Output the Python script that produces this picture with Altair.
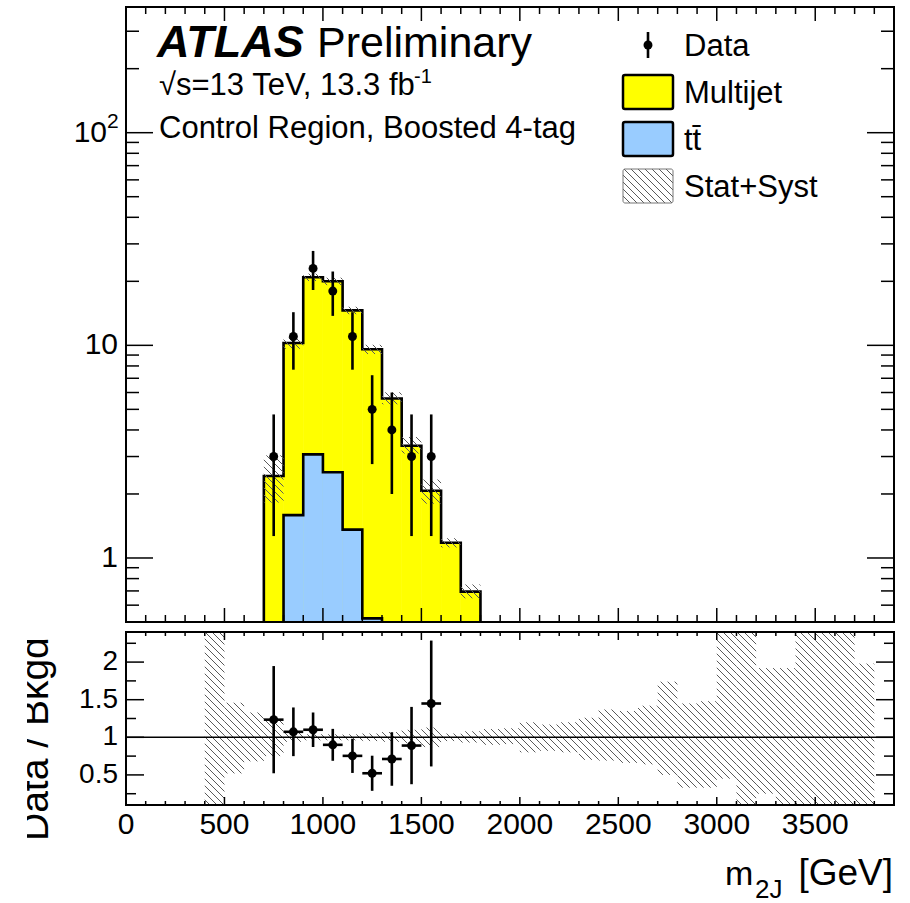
import math
import pandas as pd
import altair as alt

FONT = "Liberation Sans"

# ---------------- values ----------------
BIN_W = 100  # GeV
stack_lo = [700, 800, 900, 1000, 1100, 1200, 1300, 1400, 1500, 1600, 1700]
multijet = [2.43, 8.66, 17.83, 17.47, 13.24, 9.06, 5.62, 3.37, 2.07, 1.18, 0.695]
ttbar = [0.0, 1.59, 3.07, 2.53, 1.36, 0.52, 0.0, 0.0, 0.0, 0.0, 0.0]

data_center = [750, 850, 950, 1050, 1150, 1250, 1350, 1450, 1550]
data_count = [3, 11, 23, 18, 11, 5, 4, 3, 3]

# relative background uncertainty (stat+syst), per 100 GeV bin starting at band_lo
band_lo = list(range(400, 3800, 100))
band_up = [2.0, 0.46, 0.33, 0.25, 0.06, 0.04, 0.04, 0.04, 0.05, 0.07, 0.10, 0.13,
           0.05, 0.08, 0.11, 0.12, 0.20, 0.17, 0.20, 0.26, 0.37, 0.35, 0.42, 0.74,
           0.45, 0.48, 2.0, 2.0, 0.92, 0.92, 2.0, 2.0, 2.0, 0.98]
band_dn = [1.0, 0.48, 0.32, 0.25, 0.06, 0.04, 0.04, 0.04, 0.05, 0.06, 0.08, 0.13,
           0.05, 0.07, 0.10, 0.09, 0.20, 0.18, 0.20, 0.30, 0.31, 0.34, 0.36, 0.50,
           0.67, 0.67, 0.55, 1.0, 0.75, 1.0, 1.0, 1.0, 1.0, 1.0]

x_major = [0, 500, 1000, 1500, 2000, 2500, 3000, 3500]
x_labels = ["0", "500", "1000", "1500", "2000", "2500", "3000", "3500"]
y_major = [1, 10, 100]
y_base = ["1", "10", "10"]       # mantissa text of each decade label
y_exp = ["", "", "2"]            # superscript exponent
r_major = [0.5, 1.0, 1.5, 2.0]
r_labels = ["0.5", "1", "1.5", "2"]

# ---------------- layout ----------------
W, H = 768, 798          # whole drawing area (main + ratio pads)
MAIN_H = 615             # main pad occupies y in [0, MAIN_H]
RATIO_TOP = 625          # ratio pad occupies y in [RATIO_TOP, H]
X_DOM = [0, 3900]
MAIN_DOM = [0.5, 390]
RATIO_DOM = [0.1, 2.4]

xscale = alt.Scale(domain=X_DOM, range=[0, W], nice=False, zero=False)
main_y = alt.Scale(type="log", domain=MAIN_DOM, range=[MAIN_H, 0], nice=False)
ratio_y = alt.Scale(domain=RATIO_DOM, range=[H, RATIO_TOP], nice=False, zero=False)

LMIN, LMAX = math.log10(MAIN_DOM[0]), math.log10(MAIN_DOM[1])


def px_x(v):
    return (v - X_DOM[0]) / (X_DOM[1] - X_DOM[0]) * W


def x_of_px(p):
    return X_DOM[0] + p / W * (X_DOM[1] - X_DOM[0])


def px_main(v):
    return MAIN_H * (1 - (math.log10(v) - LMIN) / (LMAX - LMIN))


def main_of_px(p):
    return 10 ** (LMIN + (1 - p / MAIN_H) * (LMAX - LMIN))


def px_ratio(v):
    return H - (v - RATIO_DOM[0]) / (RATIO_DOM[1] - RATIO_DOM[0]) * (H - RATIO_TOP)


def ratio_of_px(p):
    return RATIO_DOM[0] + (H - p) / (H - RATIO_TOP) * (RATIO_DOM[1] - RATIO_DOM[0])


def hatch(rects_px, y_from_px, step=7.0):
    """Diagonal (\\) hatch segments filling pixel rectangles (x0, x1, top, bottom)."""
    rows = []
    for a, b, top, bot in rects_px:
        k0 = math.ceil((top - b) / step)
        k1 = math.floor((bot - a) / step)
        for k in range(k0, k1 + 1):
            c = k * step
            xs = max(a, top - c)
            xe = min(b, bot - c)
            if xe - xs > 0.6:
                rows.append({"x": x_of_px(xs), "x2": x_of_px(xe),
                             "y": y_from_px(xs + c), "y2": y_from_px(xe + c)})
    return pd.DataFrame(rows)


totals = [m + t for m, t in zip(multijet, ttbar)]
band = {lo: (u, d) for lo, u, d in zip(band_lo, band_up, band_dn)}


def step_vertices(lo_edges, values, floor):
    rows = [{"x": lo_edges[0], "y": floor}]
    for lo, v in zip(lo_edges, values):
        rows.append({"x": lo, "y": v})
        rows.append({"x": lo + BIN_W, "y": v})
    rows.append({"x": lo_edges[-1] + BIN_W, "y": floor})
    for i, r in enumerate(rows):
        r["i"] = i
    return pd.DataFrame(rows)


tot_df = step_vertices(stack_lo, totals, MAIN_DOM[0])
tt_lo = [lo for lo, t in zip(stack_lo, ttbar) if t > 0]
tt_val = [t for t in ttbar if t > 0]
tt_df = step_vertices(tt_lo, tt_val, MAIN_DOM[0])

bins_tot = pd.DataFrame({"lo": stack_lo, "hi": [v + BIN_W for v in stack_lo], "y": totals})
bins_tt = pd.DataFrame({"lo": tt_lo, "hi": [v + BIN_W for v in tt_lo], "y": tt_val})

# data and ratio
bkg_at = {lo + BIN_W / 2: t for lo, t in zip(stack_lo, totals)}
pts = []
for c, n in zip(data_center, data_count):
    e = math.sqrt(n)
    b = bkg_at[c]
    pts.append({"x": c, "lo": c - BIN_W / 2, "hi": c + BIN_W / 2,
                "n": n, "n_lo": n - e, "n_hi": n + e,
                "r": n / b, "r_lo": (n - e) / b, "r_hi": (n + e) / b})
pts_df = pd.DataFrame(pts)

# uncertainty hatching
main_rects = []
for lo, t in zip(stack_lo, totals):
    u, d = band[lo]
    v_lo = max(MAIN_DOM[0], t * (1 - d))
    v_hi = min(MAIN_DOM[1], t * (1 + u))
    if v_hi > MAIN_DOM[0]:
        main_rects.append((px_x(lo), px_x(lo + BIN_W), px_main(v_hi), px_main(v_lo)))
main_hatch_df = hatch(main_rects, main_of_px)

ratio_rects = []
for lo, u, d in zip(band_lo, band_up, band_dn):
    v_lo = max(RATIO_DOM[0], 1 - d)
    v_hi = min(RATIO_DOM[1], 1 + u)
    ratio_rects.append((px_x(lo), px_x(lo + BIN_W), px_ratio(v_hi), px_ratio(v_lo)))
ratio_hatch_df = hatch(ratio_rects, ratio_of_px)

# legend geometry (pixels inside the main pad)
LEG_X0, LEG_X1 = 497, 547
LEG_ROWS = [38, 85, 132, 179]
LEG_H = 34
legend_hatch_df = hatch([(LEG_X0, LEG_X1, LEG_ROWS[3] - LEG_H / 2, LEG_ROWS[3] + LEG_H / 2)], main_of_px)

one = pd.DataFrame({"k": [0]})


def X(field="x"):
    return alt.X(f"{field}:Q", scale=xscale, axis=None)


def YM(field="y"):
    return alt.Y(f"{field}:Q", scale=main_y, axis=None, stack=None)


def YR(field="y"):
    return alt.Y(f"{field}:Q", scale=ratio_y, axis=None, stack=None)


# ---------------- main pad ----------------
yellow_fill = alt.Chart(bins_tot).mark_rect(color="#ffff00", stroke="#ffff00", strokeWidth=0.6).encode(
    x=X("lo"), x2="hi:Q", y=YM(), y2=alt.value(MAIN_H))
blue_fill = alt.Chart(bins_tt).mark_rect(color="#99ccff", stroke="#99ccff", strokeWidth=0.6).encode(
    x=X("lo"), x2="hi:Q", y=YM(), y2=alt.value(MAIN_H))
yellow_line = alt.Chart(tot_df).mark_line(color="black", strokeWidth=2.6).encode(
    x=X(), y=YM(), order="i:Q")
blue_line = alt.Chart(tt_df).mark_line(color="black", strokeWidth=2.6).encode(
    x=X(), y=YM(), order="i:Q")
main_hatch = alt.Chart(main_hatch_df).mark_rule(color="#5a5a5a", strokeWidth=1).encode(
    x=X(), x2="x2:Q", y=YM(), y2="y2:Q")
main_err = alt.Chart(pts_df).mark_rule(color="black", strokeWidth=2.6).encode(
    x=X(), y=YM("n_lo"), y2="n_hi:Q")
main_pts = alt.Chart(pts_df).mark_circle(color="black", size=80, opacity=1).encode(
    x=X(), y=YM("n"))

main_minor = [0.6, 0.7, 0.8, 0.9] + list(range(2, 10)) + [v * 10 for v in range(2, 10)] + [200, 300]
major_y_df = pd.DataFrame({"v": y_major, "t": y_base, "e": y_exp,
                           "shift": [0 if e == "" else 11 for e in y_exp]})
minor_y_df = pd.DataFrame({"v": main_minor})


def y_ticks(df, scale, length, right=False):
    x0 = W - length if right else 0
    return alt.Chart(df).mark_rule(color="black", strokeWidth=1.5).encode(
        y=alt.Y("v:Q", scale=scale, axis=None), x=alt.value(x0), x2=alt.value(x0 + length))


# decade labels: mantissa, pushed left when an exponent follows it
main_labels = alt.Chart(major_y_df).transform_calculate(xr="-8 - datum.shift").mark_text(
    font=FONT, fontSize=30, align="right", baseline="middle", color="black").encode(
    y=YM("v"), x=alt.X("xr:Q", scale=None, axis=None), text="t:N")
main_exps = alt.Chart(major_y_df[major_y_df["e"] != ""]).mark_text(
    font=FONT, fontSize=21, align="left", baseline="middle", color="black", dy=-11).encode(
    y=YM("v"), x=alt.value(-19), text="e:N")

legend_hatch = alt.Chart(legend_hatch_df).mark_rule(color="#5a5a5a", strokeWidth=1).encode(
    x=X(), x2="x2:Q", y=YM(), y2="y2:Q")

main_group = alt.layer(
    yellow_fill, blue_fill, yellow_line, blue_line, main_hatch, main_err, main_pts,
    y_ticks(major_y_df, main_y, 27), y_ticks(minor_y_df, main_y, 13),
    y_ticks(major_y_df, main_y, 27, True), y_ticks(minor_y_df, main_y, 13, True),
    main_labels, main_exps, legend_hatch,
)

# ---------------- ratio pad ----------------
ratio_hatch = alt.Chart(ratio_hatch_df).mark_rule(color="#5a5a5a", strokeWidth=1).encode(
    x=X(), x2="x2:Q", y=YR(), y2="y2:Q")
unity = alt.Chart(pd.DataFrame({"v": [1.0]})).mark_rule(color="black", strokeWidth=1.5).encode(
    y=YR("v"), x=alt.value(0), x2=alt.value(W))
ratio_err_v = alt.Chart(pts_df).mark_rule(color="black", strokeWidth=2.6).encode(
    x=X(), y=YR("r_lo"), y2="r_hi:Q")
ratio_err_h = alt.Chart(pts_df).mark_rule(color="black", strokeWidth=2.6).encode(
    x=X("lo"), x2="hi:Q", y=YR("r"))
ratio_pts = alt.Chart(pts_df).mark_circle(color="black", size=80, opacity=1).encode(
    x=X(), y=YR("r"))
r_major_df = pd.DataFrame({"v": r_major, "t": r_labels})
r_minor_df = pd.DataFrame({"v": [0.25, 0.75, 1.25, 1.75, 2.25]})
ratio_labels = alt.Chart(r_major_df).mark_text(
    font=FONT, fontSize=28, align="right", baseline="middle", color="black").encode(
    y=YR("v"), x=alt.value(-8), text="t:N")

ratio_group = alt.layer(
    ratio_hatch, unity, ratio_err_v, ratio_err_h, ratio_pts,
    y_ticks(r_major_df, ratio_y, 18), y_ticks(r_minor_df, ratio_y, 10),
    y_ticks(r_major_df, ratio_y, 18, True), y_ticks(r_minor_df, ratio_y, 10, True),
    ratio_labels,
)

# ---------------- frames, x ticks and text ----------------
x_major_df = pd.DataFrame({"v": x_major[1:]})
x_minor_df = pd.DataFrame({"v": [v for v in range(100, 3900, 100) if v % 500]})
x_label_df = pd.DataFrame({"v": x_major, "t": x_labels})


def x_ticks(df, y_edge, length, down):
    y0, y1 = (y_edge, y_edge + length) if down else (y_edge - length, y_edge)
    return alt.Chart(df).mark_rule(color="black", strokeWidth=1.5).encode(
        x=X("v"), y=alt.value(y0), y2=alt.value(y1))


def frame(y0, y1):
    return alt.Chart(one).mark_rect(fillOpacity=0, stroke="black", strokeWidth=2).encode(
        x=alt.value(0), x2=alt.value(W), y=alt.value(y0), y2=alt.value(y1))


def text(s, x, y, size, **kw):
    opts = dict(font=FONT, fontSize=size, align="left", baseline="alphabetic", color="black")
    opts.update(kw)
    return alt.Chart(one).mark_text(text=s, **opts).encode(x=alt.value(x), y=alt.value(y))


def box(row, fill, stroke="black", sw=2.5):
    return alt.Chart(one).mark_rect(fill=fill, stroke=stroke, strokeWidth=sw, cornerRadius=2).encode(
        x=alt.value(LEG_X0), x2=alt.value(LEG_X1),
        y=alt.value(row - LEG_H / 2), y2=alt.value(row + LEG_H / 2))


def mask(x0, x1, y0, y1):
    return alt.Chart(one).mark_rect(fill="white", strokeWidth=0).encode(
        x=alt.value(x0), x2=alt.value(x1), y=alt.value(y0), y2=alt.value(y1))


x_tick_labels = alt.Chart(x_label_df).mark_text(
    font=FONT, fontSize=30, align="center", baseline="alphabetic", color="black").encode(
    x=X("v"), y=alt.value(H + 29), text="t:N")

decor = alt.layer(
    x_ticks(x_major_df, 0, 14, True), x_ticks(x_minor_df, 0, 7, True),
    x_ticks(x_major_df, MAIN_H, 14, False), x_ticks(x_minor_df, MAIN_H, 7, False),
    x_ticks(x_major_df, RATIO_TOP, 8, True), x_ticks(x_minor_df, RATIO_TOP, 4, True),
    x_ticks(x_major_df, H, 8, False), x_ticks(x_minor_df, H, 4, False),
    frame(0, MAIN_H), frame(RATIO_TOP, H),
    x_tick_labels,
    # experiment labels
    text("ATLAS", 31, 50, 45, fontWeight="bold", fontStyle="italic"),
    text("Preliminary", 191, 50, 43),
    text("\u221as=13 TeV, 13.3 fb", 33, 88, 31),
    text("-1", 288, 76, 20),
    text("Control Region, Boosted 4-tag", 33, 131, 31),
    # legend
    alt.Chart(one).mark_rule(color="black", strokeWidth=2.6).encode(
        x=alt.value(522), y=alt.value(LEG_ROWS[0] - 13), y2=alt.value(LEG_ROWS[0] + 13)),
    alt.Chart(one).mark_circle(color="black", size=80, opacity=1).encode(
        x=alt.value(522), y=alt.value(LEG_ROWS[0])),
    box(LEG_ROWS[1], "#ffff00"),
    box(LEG_ROWS[2], "#99ccff"),
    box(LEG_ROWS[3], "none", stroke="#777777", sw=1),
    text("Data", 558, LEG_ROWS[0] + 11, 31),
    text("Multijet", 558, LEG_ROWS[1] + 11, 31),
    text("tt\u0304", 558, LEG_ROWS[2] + 11, 31),
    text("Stat+Syst", 558, LEG_ROWS[3] + 11, 31),
    # axis titles
    text("m", 599, 878, 34),
    text("2J", 629, 891, 26),
    text("[GeV]", 767, 878, 37, align="right"),
    text("Data / Bkgd", -78, 834, 39, angle=270),
    mask(-126, -99, 560, 880),
    mask(-126, -60, 596, 623),
)

chart = alt.layer(main_group, ratio_group, decor).resolve_scale(y="independent").properties(
    width=W, height=H,
    autosize=alt.AutoSizeParams(type="none"),
    padding={"left": 126, "top": 7, "right": 16, "bottom": 98},
    background="white",
).configure_view(strokeWidth=0)

chart.save("out.html", embed_options={"renderer": "svg", "actions": False})
